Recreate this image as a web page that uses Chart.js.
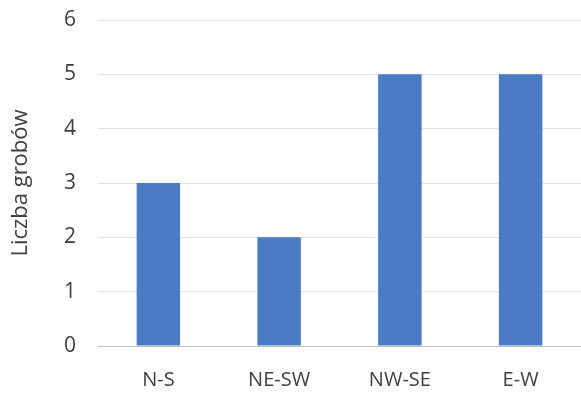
<!DOCTYPE html>
<html>
<head>
<meta charset="utf-8">
<script src="https://cdn.jsdelivr.net/npm/chart.js@4"></script>
<style>
  body { margin: 0; background: #fff; }
  #wrap { width: 581px; height: 394px; }
</style>
</head>
<body>
<div id="wrap"><canvas id="chart" width="581" height="394"></canvas></div>
<script>
// data
const categories = ["N-S", "NE-SW", "NW-SE", "E-W"];
const graveCounts = [3, 2, 5, 5];
const yTicks = [0, 1, 2, 3, 4, 5, 6];

const barColor = "#4a7bc4";
const fontFamily = "'Open Sans', 'Liberation Sans', sans-serif";

const ctx = document.getElementById("chart");
new Chart(ctx, {
  type: "bar",
  data: {
    labels: categories,
    datasets: [
      {
        data: graveCounts,
        backgroundColor: barColor,
        categoryPercentage: 1,
        barPercentage: 0.36,
      },
    ],
  },
  options: {
    responsive: false,
    animation: false,
    layout: { padding: { top: 20, right: 0, left: 0, bottom: 0 } },
    plugins: { legend: { display: false }, tooltip: { enabled: false } },
    scales: {
      x: {
        grid: { display: false, drawTicks: false },
        border: { color: "#bfbfbf", width: 1 },
        ticks: {
          color: "#404040",
          padding: 22,
          font: { family: fontFamily, size: 20 },
        },
        afterFit: (scale) => { scale.height = 48; },
      },
      y: {
        min: 0,
        max: 6,
        afterBuildTicks: (scale) => {
          scale.ticks = yTicks.map((v) => ({ value: v }));
        },
        grid: { color: "#e3e3e3", drawTicks: false },
        border: { display: false },
        ticks: {
          color: "#404040",
          padding: 22,
          font: { family: fontFamily, size: 21 },
        },
        title: {
          display: true,
          text: "Liczba grobów",
          color: "#404040",
          padding: { top: 8, bottom: 0 },
          font: { family: fontFamily, size: 22 },
        },
        afterFit: (scale) => {
          scale.width = 98;
          scale.paddingTop = 0;
          scale.paddingBottom = 0;
        },
      },
    },
  },
});
</script>
</body>
</html>
